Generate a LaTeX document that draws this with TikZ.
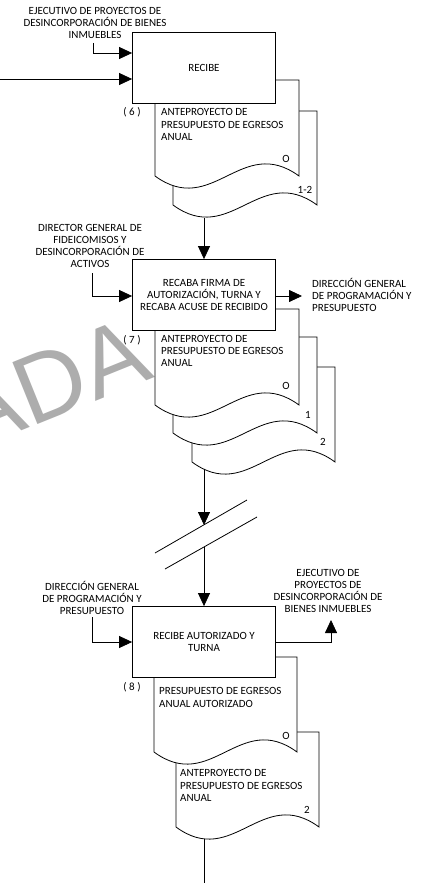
\documentclass[tikz,border=0pt]{standalone}
\usepackage{fontspec}
\setmainfont{Carlito}
\newfontfamily\wmfont{Liberation Sans}
\usetikzlibrary{arrows.meta}
\newcommand\docpath[4]{% L T R B
  \path[docsh] (#1,#4) -- (#1,#2) -- (#3,#2) -- (#3,#4)
    .. controls ({#1+0.6*(#3-#1)},{#4-42}) and ({#1+0.4*(#3-#1)},{#4+42}) .. (#1,#4) -- cycle;}
\begin{document}
\begin{tikzpicture}[x=1pt,y=-1pt,
  every node/.style={font=\fontsize{11}{12.3}\selectfont, inner sep=0pt},
  proc/.style={draw, fill=white, minimum width=143pt, minimum height=71pt, align=center, line width=0.8pt},
  lbl/.style={align=center},
  lbll/.style={align=left, anchor=west},
  conn/.style={line width=0.8pt, -{Triangle[length=13pt,width=12pt]}},
  plain/.style={line width=0.8pt},
  docsh/.style={draw, fill=white, line width=0.8pt},
]
\useasboundingbox (0,0) rectangle (421,883);
\fill[white] (0,0) rectangle (421,883);
% watermark
\node[font=\wmfont\fontsize{97}{97}\selectfont, text=black!32, rotate=22, anchor=base west] (wm) at (-30,452) {ADA};

% stack 1
\docpath{173}{111}{317}{205}
\docpath{155}{80}{299}{176}
% stack 2
\docpath{192}{367}{335}{462}
\docpath{173}{337}{317}{433}
\docpath{155}{309}{299}{405}
% stack 3
\docpath{176}{732}{319}{827}
\docpath{154}{657}{297}{752}

% boxes
\node[proc] (box1) at (204,67.5) {RECIBE};
\node[proc] (box2) at (204,295) {RECABA FIRMA DE\\AUTORIZACIÓN, TURNA Y\\RECABA ACUSE DE RECIBIDO};
\node[proc] (box3) at (204,642) {RECIBE AUTORIZADO Y\\TURNA};

% labels
\node[lbl] (l1) at (95,23) {EJECUTIVO DE PROYECTOS DE\\DESINCORPORACIÓN DE BIENES\\INMUEBLES};
\node[lbl] (l2) at (90,246) {DIRECTOR GENERAL DE\\FIDEICOMISOS Y\\DESINCORPORACIÓN DE\\ACTIVOS};
\node[lbll] (r2) at (312,295) {DIRECCIÓN GENERAL\\DE PROGRAMACIÓN Y\\PRESUPUESTO};
\node[lbl] (l3) at (92,598) {DIRECCIÓN GENERAL\\DE PROGRAMACIÓN Y\\PRESUPUESTO};
\node[lbl] (r3) at (328,591) {EJECUTIVO DE\\PROYECTOS DE\\DESINCORPORACIÓN DE\\BIENES INMUEBLES};

% document texts
\node (n6) at (132,112) {( 6 )};
\node[lbll] (t1) at (161,124.5) {ANTEPROYECTO DE\\PRESUPUESTO DE EGRESOS\\ANUAL};
\node (o1) at (286,159) {O};
\node (c12) at (305,190) {1-2};

\node (n7) at (132,340) {( 7 )};
\node[lbll] (t2) at (161,351) {ANTEPROYECTO DE\\PRESUPUESTO DE EGRESOS\\ANUAL};
\node (o2) at (286,386) {O};
\node (c1) at (308,415) {1};
\node (c2) at (323,442) {2};

\node (n8) at (132,687) {( 8 )};
\node[lbll] (t3) at (159,697.5) {PRESUPUESTO DE EGRESOS\\ANUAL AUTORIZADO};
\node (o3) at (286,736) {O};
\node[lbll] (t4) at (180,785.5) {ANTEPROYECTO DE\\PRESUPUESTO DE EGRESOS\\ANUAL};
\node (c3) at (307,810) {2};

% connectors
\coordinate (i1) at (93,43);
\coordinate (k1) at (93,53);
\draw[conn] (i1) -- (k1) -- (k1 -| box1.west);
\coordinate (s0) at (0,79);
\draw[conn] (s0) -- (s0 -| box1.west);

\coordinate (d1) at (204,218);
\draw[conn] (d1) -- (d1 |- box2.north);

\coordinate (i2) at (92,273);
\coordinate (k2) at (92,296);
\draw[conn] (i2) -- (k2) -- (k2 -| box2.west);
\coordinate (e2) at (302,296);
\draw[conn] (e2 -| box2.east) -- (e2);

\coordinate (d2) at (204,469);
\coordinate (br1) at (204,525);
\coordinate (br2) at (204,547);
\draw[conn] (d2) -- (br1);
\coordinate (b1a) at (155,553);
\coordinate (b1b) at (247,500);
\coordinate (b2a) at (165,569);
\coordinate (b2b) at (257,517);
\draw[plain] (b1a) -- (b1b);
\draw[plain] (b2a) -- (b2b);
\draw[conn] (br2) -- (br2 |- box3.north);

\coordinate (i3) at (92,617);
\coordinate (k3) at (92,642);
\draw[conn] (i3) -- (k3) -- (k3 -| box3.west);
\coordinate (e3c) at (331,642);
\coordinate (e3) at (331,620);
\draw[conn] (e3c -| box3.east) -- (e3c) -- (e3);

\coordinate (d3) at (204,838.5);
\coordinate (f3) at (204,883);
\draw[plain] (d3) -- (f3);
\end{tikzpicture}
\end{document}
